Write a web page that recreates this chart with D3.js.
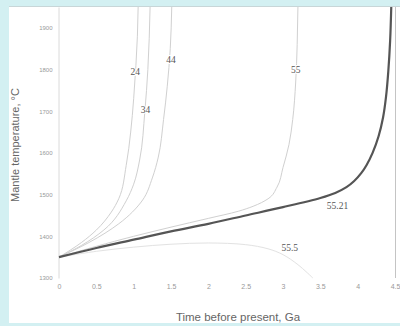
<!DOCTYPE html>
<html>
<head>
<meta charset="utf-8">
<script src="https://cdn.jsdelivr.net/npm/d3@7"></script>
<style>
  body { margin: 0; background: #d3f0f2; }
  svg { display: block; }
</style>
</head>
<body>
<div id="chart"></div>
<script>
// time before present (Ga) / mantle temperature (°C)
const curve24 = [[0, 1350], [0.3, 1385], [0.5, 1415], [0.7, 1458], [0.8, 1490], [0.9, 1570], [0.96, 1650], [1.0, 1730], [1.03, 1810], [1.05, 1880], [1.06, 1950]];
const curve34 = [[0, 1350], [0.3, 1378], [0.6, 1415], [0.9, 1485], [1.0, 1525], [1.08, 1583], [1.15, 1700], [1.19, 1800], [1.22, 1950]];
const curve44 = [[0, 1350], [0.4, 1385], [0.8, 1430], [1.12, 1487], [1.25, 1540], [1.33, 1590], [1.4, 1680], [1.45, 1760], [1.49, 1850], [1.51, 1950]];
const curve55 = [[0, 1350], [0.5, 1376], [1, 1400], [1.5, 1422], [2, 1443], [2.4, 1460], [2.6, 1472], [2.8, 1490], [2.92, 1518], [3.0, 1565], [3.08, 1620], [3.13, 1680], [3.17, 1770], [3.19, 1860], [3.2, 1950]];
const curve5521 = [[0, 1350], [0.5, 1372], [1, 1392], [1.5, 1412], [2, 1430], [2.5, 1450], [3, 1470], [3.5, 1492], [3.7, 1504], [3.85, 1518], [3.95, 1532], [4.05, 1552], [4.12, 1571], [4.2, 1600], [4.28, 1640], [4.34, 1685], [4.38, 1735], [4.41, 1795], [4.435, 1870], [4.45, 1950]];
const curve555 = [[0, 1350], [0.5, 1364], [1, 1374], [1.5, 1381], [2, 1384], [2.5, 1380], [2.8, 1370], [3.0, 1356], [3.2, 1332], [3.4, 1300]];

const curveNames = ["24", "34", "44", "55", "55.21", "55.5"];
const labelPos = [[1.02, 1794], [1.16, 1703], [1.50, 1823], [3.17, 1799], [3.73, 1473], [3.09, 1372]];

const xTicks = [0, 0.5, 1, 1.5, 2, 2.5, 3, 3.5, 4, 4.5];
const yTicks = [1300, 1400, 1500, 1600, 1700, 1800, 1900];

const width = 400, height = 326;
const svg = d3.select("#chart").append("svg")
  .attr("width", width)
  .attr("height", height);

// white panel inside the cyan frame
svg.append("rect")
  .attr("x", 9).attr("y", 6)
  .attr("width", 391).attr("height", 317)
  .attr("fill", "#ffffff");

const x = d3.scaleLinear().domain([0, 4.5]).range([59, 395]);
const y = d3.scaleLinear().domain([1300, 1950]).range([278, 7]);

// frame lines
svg.append("line")
  .attr("x1", 9).attr("x2", 400).attr("y1", 6.5).attr("y2", 6.5)
  .attr("stroke", "#c8d6d8").attr("stroke-width", 1);
svg.append("line")
  .attr("x1", x(4.5) + 0.5).attr("x2", x(4.5) + 0.5)
  .attr("y1", y(1950)).attr("y2", y(1300))
  .attr("stroke", "#c4c4c4");

const yAxis = svg.append("g")
  .attr("transform", `translate(${x(0) - 0.5},0)`)
  .call(d3.axisLeft(y).tickValues(yTicks).tickSize(0).tickPadding(6).tickFormat(d3.format("d")));
yAxis.select(".domain").attr("stroke", "#dadada");
yAxis.selectAll("text")
  .attr("fill", "#999").style("font-size", "6px").style("font-family", "Liberation Sans, Arial, sans-serif");

const xAxis = svg.append("g")
  .attr("transform", `translate(0,${y(1300)})`)
  .call(d3.axisBottom(x).tickValues(xTicks).tickSize(0).tickPadding(6).tickFormat(d => d));
xAxis.select(".domain").remove();
xAxis.selectAll("text")
  .attr("fill", "#999").style("font-size", "7px").style("font-family", "Liberation Sans, Arial, sans-serif");

// axis titles
svg.append("text")
  .attr("x", 238).attr("y", 321)
  .attr("text-anchor", "middle")
  .attr("fill", "#666")
  .style("font-size", "11.5px")
  .style("font-family", "Liberation Sans, Arial, sans-serif")
  .text("Time before present, Ga");

svg.append("text")
  .attr("transform", `translate(19,145) rotate(-90)`)
  .attr("text-anchor", "middle")
  .attr("fill", "#666")
  .style("font-size", "11px")
  .style("font-family", "Liberation Sans, Arial, sans-serif")
  .text("Mantle temperature, °C");

const line = d3.line()
  .curve(d3.curveMonotoneY)
  .x(d => x(d[0]))
  .y(d => y(d[1]));

const lineCatmull = d3.line()
  .curve(d3.curveCatmullRom)
  .x(d => x(d[0]))
  .y(d => y(d[1]));

const plot = svg.append("g");
const thin = [curve24, curve34, curve44, curve55];
thin.forEach(c => {
  plot.append("path")
    .datum(c)
    .attr("d", line)
    .attr("fill", "none")
    .attr("stroke", "#d0d0d0")
    .attr("stroke-width", 1);
});

plot.append("path")
  .datum(curve555)
  .attr("d", lineCatmull)
  .attr("fill", "none")
  .attr("stroke", "#e2e2e2")
  .attr("stroke-width", 1);

plot.append("path")
  .datum(curve5521)
  .attr("d", lineCatmull)
  .attr("fill", "none")
  .attr("stroke", "#555")
  .attr("stroke-width", 2.2);

// curve labels
svg.selectAll(".lbl")
  .data(curveNames)
  .enter().append("text")
  .attr("class", "lbl")
  .attr("x", (d, i) => x(labelPos[i][0]))
  .attr("y", (d, i) => y(labelPos[i][1]))
  .attr("dy", "0.35em")
  .attr("text-anchor", "middle")
  .attr("fill", "#555")
  .style("font-size", "9.5px")
  .style("font-family", "Liberation Serif, Times New Roman, serif")
  .style("paint-order", "stroke")
  .style("stroke", "#fff")
  .style("stroke-width", "2px")
  .text(d => d);
</script>
</body>
</html>
